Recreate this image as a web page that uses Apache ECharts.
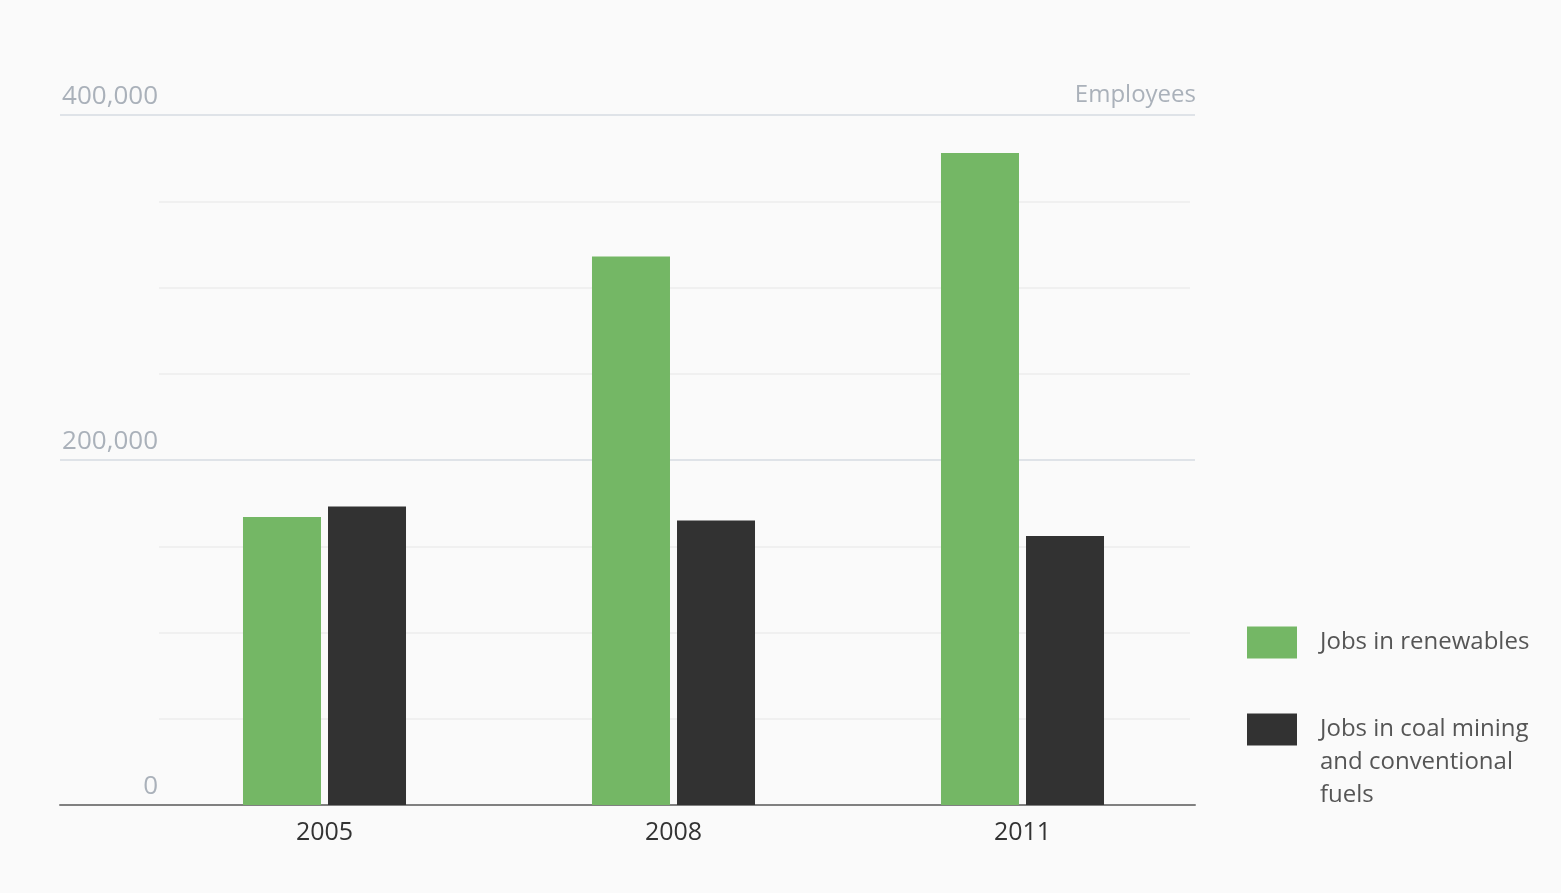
<!DOCTYPE html>
<html>
<head>
<meta charset="utf-8">
<script src="https://cdn.jsdelivr.net/npm/echarts@6/dist/echarts.min.js"></script>
<style>
html,body{margin:0;padding:0;background:#fafafa;}
#chart{width:1561px;height:893px;}
</style>
</head>
<body>
<div id="chart"></div>
<script>
const categories = ['2005', '2008', '2011'];
const renewables = [167000, 318000, 378000];
const coal = [173000, 165000, 156000];
const seriesNames = ['Jobs in renewables', 'Jobs in coal mining\nand conventional\nfuels'];
const yMax = 400000;
const unitLabel = 'Employees';

const FONT = 'Open Sans';
const chart = echarts.init(document.getElementById('chart'));
const fmt = v => v.toLocaleString('en-US');

const legendBase = {
  orient: 'vertical',
  left: 1242,
  itemWidth: 50,
  itemHeight: 32,
  icon: 'rect',
  selectedMode: false,
  textStyle: { fontFamily: FONT, fontSize: 24, color: '#555555', lineHeight: 33, padding: [0, 0, 0, 18] }
};

chart.setOption({
  backgroundColor: '#fafafa',
  animation: false,
  textStyle: { fontFamily: FONT },
  title: {
    text: unitLabel,
    right: 360,
    top: 78,
    textStyle: { fontFamily: FONT, fontSize: 24, fontWeight: 'normal', color: '#aab1ba' }
  },
  legend: [
    Object.assign({}, legendBase, {
      top: 621,
      data: [seriesNames[0]]
    }),
    Object.assign({}, legendBase, {
      top: 642,
      data: [seriesNames[1]],
      formatter: name => '\n\n' + name
    })
  ],
  grid: [
    { left: 150, right: 364, top: 115, bottom: 88 },
    { left: 159, right: 371, top: 115, bottom: 88 },
    { left: 60, right: 366, top: 115, bottom: 88 }
  ],
  xAxis: [
    {
      gridIndex: 0, type: 'category', data: categories,
      axisLine: { show: false }, axisTick: { show: false },
      axisLabel: { fontFamily: FONT, fontSize: 25, color: '#333333', margin: 15 }
    },
    { gridIndex: 1, type: 'value', show: false },
    {
      gridIndex: 2, type: 'value', min: 0, max: 1,
      axisLine: { show: true, lineStyle: { color: '#808080', width: 2 } },
      axisTick: { show: false }, axisLabel: { show: false }, splitLine: { show: false }
    }
  ],
  yAxis: [
    {
      gridIndex: 0, type: 'value', min: 0, max: yMax, interval: 200000,
      axisLine: { show: false }, axisTick: { show: false }, splitLine: { show: false },
      axisLabel: {
        fontFamily: FONT, fontSize: 26, color: '#aab1ba', margin: -8,
        align: 'right', verticalAlign: 'bottom', padding: [0, 0, 5, 0],
        formatter: fmt
      }
    },
    {
      gridIndex: 1, type: 'value', min: 0, max: yMax, interval: 50000,
      axisLine: { show: false }, axisTick: { show: false }, axisLabel: { show: false },
      splitLine: { show: true, lineStyle: { color: '#ececec', width: 1.5 } }
    },
    {
      gridIndex: 2, type: 'value', min: 0, max: yMax, interval: 200000,
      axisLine: { show: false }, axisTick: { show: false }, axisLabel: { show: false },
      splitLine: { show: true, lineStyle: { color: '#dfe3e8', width: 2 } }
    }
  ],
  series: [
    {
      name: seriesNames[0], type: 'bar', xAxisIndex: 0, yAxisIndex: 0,
      data: renewables, barWidth: 78, barGap: '9%', itemStyle: { color: '#74b765' }
    },
    {
      name: seriesNames[1], type: 'bar', xAxisIndex: 0, yAxisIndex: 0,
      data: coal, barWidth: 78, barGap: '9%', itemStyle: { color: '#323232' }
    }
  ]
});
</script>
</body>
</html>
